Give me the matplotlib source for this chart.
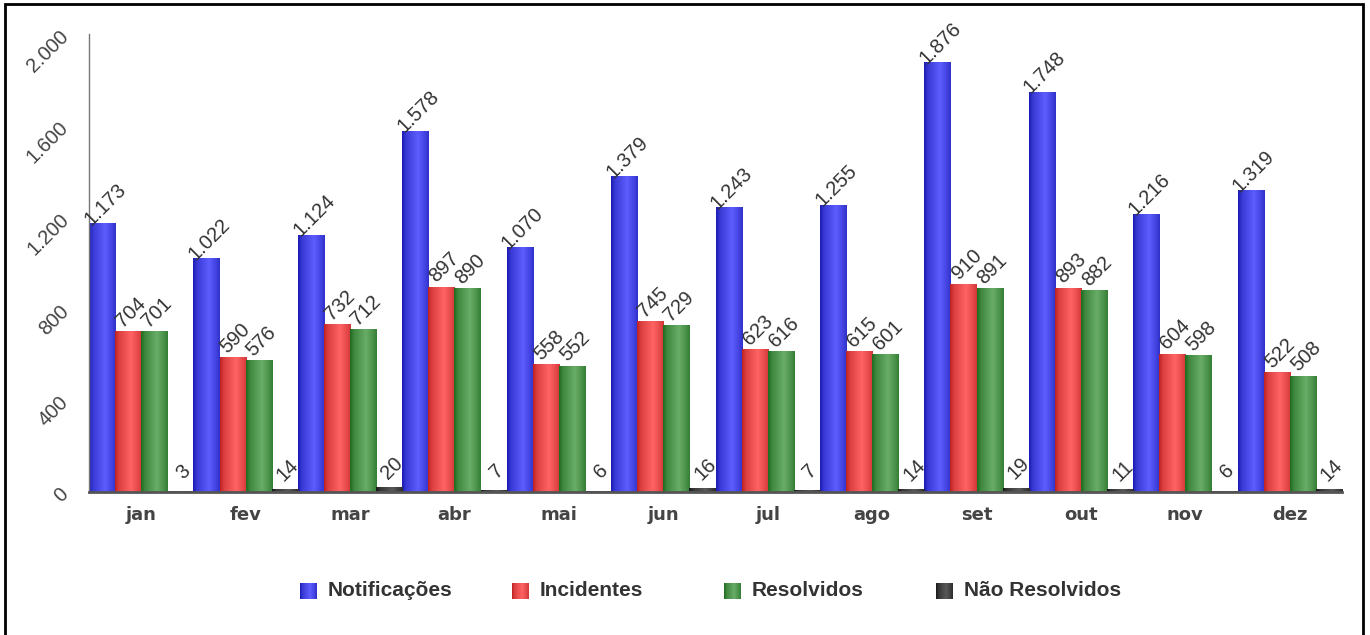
import numpy as np
import matplotlib
matplotlib.use('Agg')
import matplotlib.pyplot as plt
from matplotlib.patches import Rectangle

meses = ['jan', 'fev', 'mar', 'abr', 'mai', 'jun', 'jul', 'ago', 'set', 'out', 'nov', 'dez']
notificacoes = [1173, 1022, 1124, 1578, 1070, 1379, 1243, 1255, 1876, 1748, 1216, 1319]
incidentes = [704, 590, 732, 897, 558, 745, 623, 615, 910, 893, 604, 522]
resolvidos = [701, 576, 712, 890, 552, 729, 616, 601, 891, 882, 598, 508]
nao_resolvidos = [3, 14, 20, 7, 6, 16, 7, 14, 19, 11, 6, 14]

series = [
    ('Notificações', notificacoes, '#1c1cb4', '#5e5eff'),
    ('Incidentes', incidentes, '#c02222', '#ff6464'),
    ('Resolvidos', resolvidos, '#1f6b1f', '#68ac68'),
    ('Não Resolvidos', nao_resolvidos, '#181818', '#5a5a5a'),
]


def fmt(v):
    return f'{v:,}'.replace(',', '.')


def gradiente(escuro, claro, n=64):
    e = np.array(matplotlib.colors.to_rgb(escuro))
    c = np.array(matplotlib.colors.to_rgb(claro))
    t = np.linspace(0, 1, n)
    s = np.interp(t, [0, 0.15, 0.6, 0.85, 1], [0, 0.45, 1, 0.6, 0.3])
    img = e[None, :] + (c - e)[None, :] * s[:, None]
    return img[None, :, :]


W, H = 1370, 635
fig = plt.figure(figsize=(W / 100, H / 100), dpi=100)
ax = fig.add_axes([89 / W, 1 - 492 / H, (1342 - 89) / W, (492 - 34) / H])

x = np.arange(len(meses))
largura = 0.25
offsets = [-1.5, -0.5, 0.5, 1.5]

for (nome, vals, escuro, claro), off in zip(series, offsets):
    img = gradiente(escuro, claro)
    bars = ax.bar(x + off * largura, vals, largura, color='none', edgecolor='none')
    for b, v in zip(bars, vals):
        x0, w, h = b.get_x(), b.get_width(), b.get_height()
        im = ax.imshow(img, extent=[x0, x0 + w, 0, h], aspect='auto',
                       interpolation='bilinear', zorder=2)
        im.set_clip_path(b)
        ax.annotate(fmt(v), (x0 + w / 2, h), xytext=(3, 19),
                    textcoords='offset pixels', ha='center', va='center',
                    rotation=45, rotation_mode='anchor', fontsize=14.5,
                    family='Liberation Sans', color='#333333', zorder=3)

ax.set_xlim(-0.5, len(meses) - 0.5)
ax.set_ylim(0, 2000)
ax.set_yticks([0, 400, 800, 1200, 1600, 2000])
ax.set_yticklabels([fmt(t) for t in [0, 400, 800, 1200, 1600, 2000]],
                   rotation=45, fontsize=14.5, family='Liberation Sans', color='#444444')
ax.set_xticks(x)
ax.set_xticklabels(meses, fontsize=13, fontweight='bold', color='#444444')
ax.tick_params(axis='both', length=0)
ax.tick_params(axis='y', pad=12)
ax.tick_params(axis='x', pad=10)
for s in ['top', 'right']:
    ax.spines[s].set_visible(False)
ax.spines['left'].set_color('#777777')
ax.spines['left'].set_linewidth(1)
ax.spines['bottom'].set_color('#555555')
ax.spines['bottom'].set_linewidth(2)
ax.spines['bottom'].set_zorder(4)

# legenda manual
lx = [308, 520, 732, 944]
ly = 1 - 591 / H
for (nome, vals, escuro, claro), px in zip(series, lx):
    lax = fig.add_axes([(px - 8.5) / W, ly - 8.5 / H, 17 / W, 17 / H])
    lax.imshow(gradiente(escuro, claro), aspect='auto', extent=[0, 1, 0, 1],
               interpolation='bilinear')
    lax.set_axis_off()
    fig.text((px + 20) / W, ly, nome, ha='left', va='center', fontsize=15,
             family='Liberation Sans', fontweight='bold', color='#333333')

fig.patches.append(Rectangle((5 / W, -0.05), (1363 - 5) / W, 1.05 - 4 / H,
                             transform=fig.transFigure, fill=False,
                             edgecolor='black', linewidth=2))

fig.savefig('out.png', dpi=100)
